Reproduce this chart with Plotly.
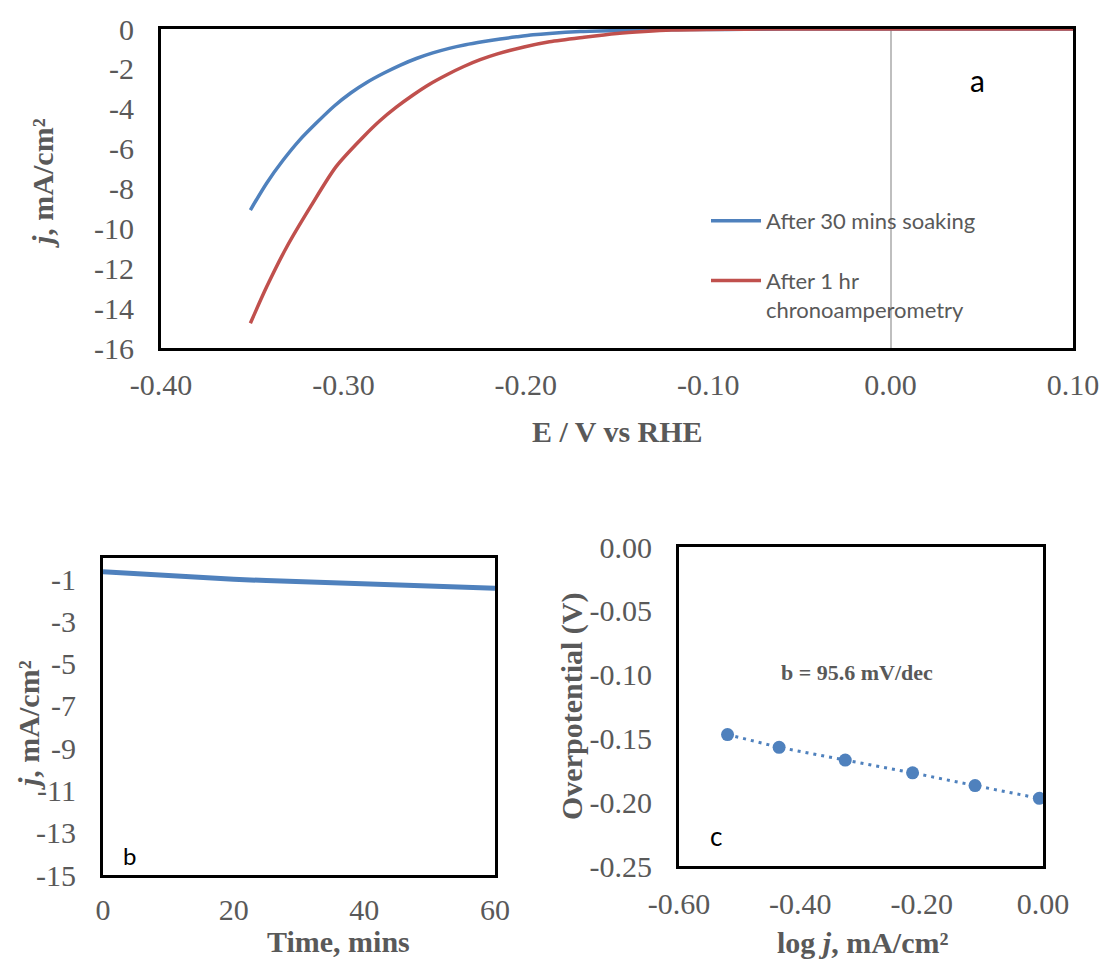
import plotly.graph_objects as go

W, H = 1106, 961
def px(x): return x / W
def py(y): return 1 - y / H

# ---------------- Panel a: polarization curves ----------------
blue_E = [-0.351, -0.342, -0.333, -0.324, -0.315, -0.305, -0.296, -0.287, -0.278, -0.269,
          -0.260, -0.251, -0.242, -0.233, -0.223, -0.214, -0.205, -0.196, -0.187, -0.170,
          -0.150, -0.130, -0.110, -0.090, -0.070, -0.050, 0.000, 0.050, 0.100]
blue_j = [-9.08, -7.72, -6.57, -5.57, -4.73, -3.86, -3.21, -2.67, -2.22, -1.82,
          -1.48, -1.20, -0.97, -0.79, -0.63, -0.50, -0.39, -0.29, -0.22, -0.13,
          -0.08, -0.05, -0.03, -0.02, -0.01, 0.0, 0.0, 0.0, 0.0]
red_E = [-0.351, -0.342, -0.331, -0.318, -0.304, -0.289, -0.280, -0.271, -0.262, -0.253,
         -0.243, -0.234, -0.225, -0.216, -0.201, -0.187, -0.168, -0.150, -0.135, -0.120,
         -0.100, -0.080, -0.060, 0.000, 0.050, 0.100]
red_j = [-14.76, -12.92, -10.92, -8.91, -6.90, -5.40, -4.60, -3.92, -3.32, -2.78,
         -2.28, -1.88, -1.54, -1.26, -0.90, -0.64, -0.41, -0.22, -0.12, -0.05,
         -0.02, -0.01, 0.0, 0.0, 0.0, 0.0]
a_xticks = [-0.40, -0.30, -0.20, -0.10, 0.00, 0.10]
a_xtext = ["-0.40", "-0.30", "-0.20", "-0.10", "0.00", "0.10"]
a_yticks = [0, -2, -4, -6, -8, -10, -12, -14, -16]
a_ytext = ["0", "-2", "-4", "-6", "-8", "-10", "-12", "-14", "-16"]

# ---------------- Panel b: chronoamperometry ----------------
time_min = [0, 5, 10, 15, 20, 25, 30, 35, 40, 45, 50, 55, 60]
j_time = [-0.65, -0.75, -0.84, -0.93, -1.00, -1.07, -1.12, -1.18, -1.23, -1.28, -1.33, -1.38, -1.43]
b_xticks = [0, 20, 40, 60]
b_xtext = ["0", "20", "40", "60"]
b_yticks = [-1, -3, -5, -7, -9, -11, -13, -15]
b_ytext = ["-1", "-3", "-5", "-7", "-9", "-11", "-13", "-15"]

# ---------------- Panel c: Tafel plot ----------------
log_j = [-0.520, -0.435, -0.326, -0.215, -0.112, -0.006]
eta = [-0.147, -0.157, -0.167, -0.177, -0.187, -0.197]
c_xticks = [-0.60, -0.40, -0.20, 0.00]
c_xtext = ["-0.60", "-0.40", "-0.20", "0.00"]
c_yticks = [0.00, -0.05, -0.10, -0.15, -0.20, -0.25]
c_ytext = ["0.00", "-0.05", "-0.10", "-0.15", "-0.20", "-0.25"]

BLUE = "#4F81BD"
RED = "#C0504D"
GRAY = "#595959"
SERIF = "Liberation Serif, Times New Roman, serif"
SANS = "Lato, Liberation Sans, sans-serif"

fig = go.Figure()
fig.add_trace(go.Scatter(x=blue_E, y=blue_j, mode="lines", name="After 30 mins soaking",
                         line=dict(color=BLUE, width=3.5, shape="spline", smoothing=0.8),
                         legendgroup="g1", xaxis="x", yaxis="y"))
fig.add_trace(go.Scatter(x=red_E, y=red_j, mode="lines", name="After 1 hr<br>chronoamperometry",
                         line=dict(color=RED, width=3.5, shape="spline", smoothing=0.8),
                         legendgroup="g2", xaxis="x", yaxis="y"))
fig.add_trace(go.Scatter(x=time_min, y=j_time, mode="lines", showlegend=False,
                         line=dict(color=BLUE, width=5), xaxis="x2", yaxis="y2"))
fig.add_trace(go.Scatter(x=log_j, y=eta, mode="lines+markers", showlegend=False,
                         line=dict(color=BLUE, width=3, dash="3px,5px"),
                         marker=dict(color=BLUE, size=13), xaxis="x3", yaxis="y3"))

tickfont = dict(family=SERIF, size=30, color=GRAY)
axis_common = dict(showgrid=False, showline=True, linecolor="black", linewidth=3, mirror=True,
                   ticks="", tickfont=tickfont, automargin=False, tickmode="array")
ystand = dict(ticklabelstandoff=18)

fig.update_layout(
    width=W, height=H,
    margin=dict(l=0, r=0, t=0, b=0),
    paper_bgcolor="white", plot_bgcolor="white",
    template="none",
    xaxis=dict(axis_common, ticklabelstandoff=8, domain=[px(161), px(1073)], range=[-0.40, 0.10],
               tickvals=a_xticks, ticktext=a_xtext, anchor="y",
               zeroline=True, zerolinecolor="#BFBFBF", zerolinewidth=2),
    yaxis=dict(axis_common, **ystand, domain=[py(348), py(29)], range=[-16, 0],
               tickvals=a_yticks, ticktext=a_ytext, anchor="x", zeroline=False),
    xaxis2=dict(axis_common, ticklabelstandoff=6, domain=[px(103), px(495)], range=[0, 60],
                tickvals=b_xticks, ticktext=b_xtext, anchor="y2", zeroline=False),
    yaxis2=dict(axis_common, **ystand, domain=[py(875), py(558)], range=[-15, 0],
                tickvals=b_yticks, ticktext=b_ytext, anchor="x2", zeroline=False),
    xaxis3=dict(axis_common, ticklabelstandoff=9, domain=[px(679), px(1043)], range=[-0.60, 0.0],
                tickvals=c_xticks, ticktext=c_xtext, anchor="y3", zeroline=False),
    yaxis3=dict(axis_common, **ystand, domain=[py(866), py(547)], range=[-0.25, 0.0],
                tickvals=c_yticks, ticktext=c_ytext, anchor="x3", zeroline=False),
    legend=dict(x=px(706), y=py(200), xanchor="left", yanchor="top",
                font=dict(family=SANS, size=22, color=GRAY),
                bgcolor="rgba(0,0,0,0)", tracegroupgap=28, valign="top", itemwidth=50),
    showlegend=True,
)

title_font = dict(family=SERIF, size=30, color=GRAY)
annotations = [
    dict(text="<b><i>j</i>, mA/cm²</b>", x=px(42), y=py(183), textangle=-90, font=title_font),
    dict(text="<b>E / V vs RHE</b>", x=px(617), y=py(432), font=title_font),
    dict(text="<b><i>j</i>, mA/cm²</b>", x=px(28), y=py(725), textangle=-90, font=title_font),
    dict(text="<b>Time, mins</b>", x=px(338), y=py(941), font=title_font),
    dict(text="<b>Overpotential (V)</b>", x=px(572), y=py(707), textangle=-90, font=title_font),
    dict(text="<b>log <i>j</i>, mA/cm²</b>", x=px(862), y=py(942), font=title_font),
    dict(text="<b>b = 95.6 mV/dec</b>", x=px(857), y=py(672),
         font=dict(family=SERIF, size=22, color=GRAY)),
    dict(text="a", x=px(977), y=py(80), font=dict(family=SANS, size=30, color="black")),
    dict(text="b", x=px(129), y=py(855), font=dict(family=SANS, size=24, color="black")),
    dict(text="c", x=px(716), y=py(836), font=dict(family=SANS, size=26, color="black")),
]
for a in annotations:
    a.update(xref="paper", yref="paper", showarrow=False, xanchor="center", yanchor="middle")
fig.update_layout(annotations=annotations)

fig.write_html("out.html", config={"displayModeBar": False},
               post_script="document.body.style.margin='0px';document.body.style.overflow='hidden';")
